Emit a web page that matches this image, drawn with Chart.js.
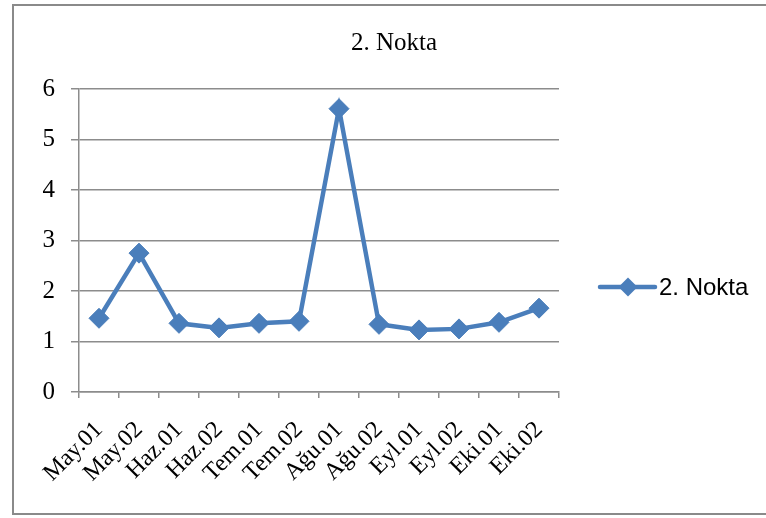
<!DOCTYPE html>
<html lang="tr">
<head>
<meta charset="utf-8">
<title>2. Nokta</title>
<script src="https://cdn.jsdelivr.net/npm/chart.js@4.4.1/dist/chart.umd.min.js"></script>
<style>
  html, body { margin: 0; padding: 0; background: #ffffff; }
  #wrap { position: relative; width: 766px; height: 518px; }
  canvas { display: block; }
</style>
</head>
<body>
<div id="wrap"><canvas id="chart" width="766" height="518"></canvas></div>
<script>
// Measurement periods (month abbreviation + reading number)
const periods = ['May.01', 'May.02', 'Haz.01', 'Haz.02', 'Tem.01', 'Tem.02',
                 'Ağu.01', 'Ağu.02', 'Eyl.01', 'Eyl.02', 'Eki.01', 'Eki.02'];

// Readings at measuring point 2
const nokta2 = [1.46, 2.75, 1.36, 1.27, 1.36, 1.40, 5.61, 1.34, 1.23, 1.25, 1.38, 1.66];

// Value axis ticks
const yTicks = [0, 1, 2, 3, 4, 5, 6];

const seriesName = '2. Nokta';
const chartTitle = '2. Nokta';

const BLUE = '#4A7EBB';
const GRID = '#8C8C8C';
const SERIF = '"Liberation Serif", "Times New Roman", serif';
const SANS = '"Liberation Sans", Arial, sans-serif';

// Outer frame of the chart object and the title above the plot
const framePlugin = {
  id: 'frame',
  beforeDraw(chart) {
    const ctx = chart.ctx;
    ctx.save();
    ctx.fillStyle = '#ffffff';
    ctx.fillRect(0, 0, chart.width, chart.height);
    ctx.strokeStyle = '#8A8A8A';
    ctx.lineWidth = 2;
    ctx.strokeRect(13, 5, chart.width + 10, chart.height - 9);
    ctx.fillStyle = '#000000';
    ctx.font = '25px ' + SERIF;
    ctx.textAlign = 'center';
    ctx.textBaseline = 'alphabetic';
    ctx.fillText(chartTitle, 394, 50);
    ctx.restore();
  }
};

// Legend entry on the right: line with a diamond marker, then the series name
const sideLegend = {
  id: 'sideLegend',
  afterDraw(chart) {
    const ds = chart.data.datasets[0];
    const ctx = chart.ctx;
    const x0 = chart.chartArea.right + 41;
    const y = 287;
    ctx.save();
    ctx.strokeStyle = ds.borderColor;
    ctx.lineWidth = 4.5;
    ctx.lineCap = 'round';
    ctx.beginPath();
    ctx.moveTo(x0, y);
    ctx.lineTo(x0 + 55, y);
    ctx.stroke();
    const cx = x0 + 28, r = 9.5;
    ctx.fillStyle = ds.backgroundColor;
    ctx.beginPath();
    ctx.moveTo(cx - r, y);
    ctx.lineTo(cx, y - r);
    ctx.lineTo(cx + r, y);
    ctx.lineTo(cx, y + r);
    ctx.closePath();
    ctx.fill();
    ctx.fillStyle = '#000000';
    ctx.font = '24px ' + SANS;
    ctx.textBaseline = 'middle';
    ctx.textAlign = 'left';
    ctx.fillText(ds.label, x0 + 59, y + 1);
    ctx.restore();
  }
};

new Chart(document.getElementById('chart'), {
  type: 'line',
  data: {
    labels: periods,
    datasets: [{
      label: seriesName,
      data: nokta2,
      borderColor: BLUE,
      backgroundColor: BLUE,
      borderWidth: 4.5,
      pointStyle: 'rectRot',
      pointRadius: 10,
      pointBorderWidth: 1,
      pointBackgroundColor: BLUE,
      pointBorderColor: BLUE,
      tension: 0,
      clip: false
    }]
  },
  options: {
    responsive: false,
    animation: false,
    devicePixelRatio: 1,
    layout: { padding: { left: 0, right: 207, top: 89, bottom: 0 } },
    plugins: {
      legend: { display: false },
      tooltip: { enabled: false },
      title: { display: false }
    },
    scales: {
      x: {
        type: 'category',
        offset: true,
        grid: {
          offset: true,
          drawOnChartArea: false,
          drawTicks: true,
          tickLength: 6,
          color: GRID,
          lineWidth: 1.5
        },
        border: { display: true, color: GRID, width: 1.5 },
        ticks: {
          color: '#000000',
          font: { family: SERIF, size: 24 },
          minRotation: 45,
          maxRotation: 45,
          autoSkip: false,
          padding: 18
        },
        afterFit(scale) { scale.height = 126; }
      },
      y: {
        min: yTicks[0],
        max: yTicks[yTicks.length - 1],
        afterBuildTicks(scale) { scale.ticks = yTicks.map(v => ({ value: v })); },
        grid: {
          color: GRID,
          lineWidth: 1.5,
          drawTicks: true,
          tickLength: 8
        },
        border: { display: true, color: GRID, width: 1.5 },
        ticks: {
          color: '#000000',
          font: { family: SERIF, size: 25 },
          padding: 16
        },
        afterFit(scale) { scale.width = 79; }
      }
    }
  },
  plugins: [framePlugin, sideLegend]
});
</script>
</body>
</html>
